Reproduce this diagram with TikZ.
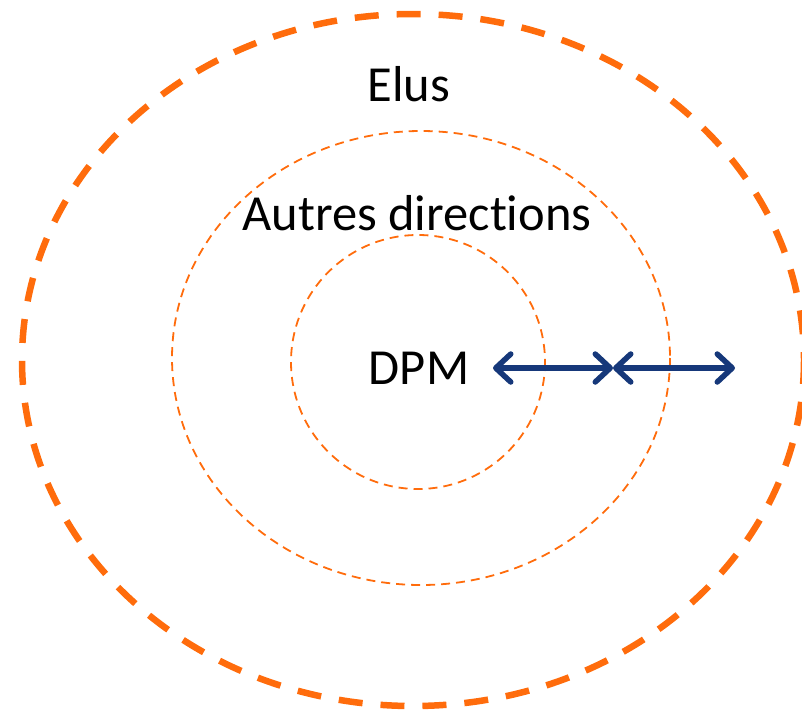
\documentclass[tikz,border=0pt]{standalone}
\usepackage{fontspec}
\setmainfont[Ligatures={NoCommon}]{Carlito}
\usetikzlibrary{arrows.meta}
\definecolor{ring}{RGB}{255,108,12}
\definecolor{arrowblue}{RGB}{22,56,122}
\tikzset{
  outerring/.style={draw=ring, line width=6.5pt, dash pattern=on 24pt off 18pt},
  innerring/.style={draw=ring, line width=1.8pt, dash pattern=on 9pt off 6pt},
  label/.style={font=\fontsize{50.5}{60}\selectfont, text=black, inner sep=0pt},
  span/.style={draw=arrowblue, line width=5.5pt, line cap=round,
    {Straight Barb[length=15pt, width=28pt, line cap=round, line join=round]}-{Straight Barb[length=15pt, width=28pt, line cap=round, line join=round]}}
}
\begin{document}
\begin{tikzpicture}[x=1pt, y=-1pt]
\useasboundingbox (0,0) rectangle (802,712);
\draw[outerring] (413,360) ellipse [x radius=391, y radius=346];
\draw[innerring] (421,358) ellipse [x radius=249, y radius=227];
\draw[innerring] (418,362) ellipse [x radius=127, y radius=127];
\node[label] (elus) at (409,84) {Elus};
\node[label] (autres) at (417,213) {Autres directions};
\node[label] (dpm) at (419,368) {DPM};
\coordinate (a) at (493,368);
\coordinate (m) at (613,368);
\coordinate (b) at (735,368);
\draw[span] (a) -- (m);
\draw[span] (m) -- (b);
\end{tikzpicture}
\end{document}
